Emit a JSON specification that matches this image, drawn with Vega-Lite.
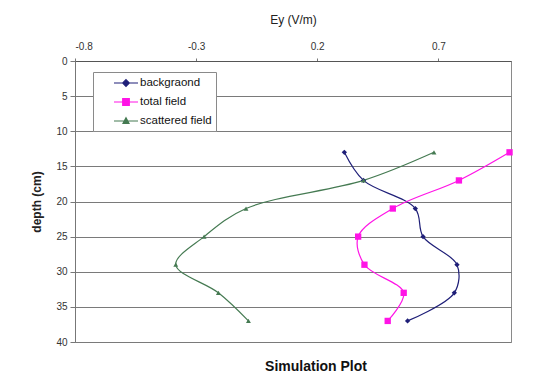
{
  "$schema": "https://vega.github.io/schema/vega-lite/v6.json",
  "width": 436,
  "height": 281,
  "autosize": {"type": "none"},
  "padding": {"left": 75, "top": 61, "right": 36, "bottom": 39},
  "background": "white",
  "config": {
    "font": "Liberation Sans",
    "view": {"stroke": "#8a8a8a", "strokeWidth": 1}
  },
  "title": {
    "text": "Simulation Plot",
    "orient": "bottom",
    "anchor": "middle",
    "fontSize": 14,
    "fontWeight": "bold",
    "color": "#111",
    "offset": 13,
    "dx": 23
  },
  "data": {
    "values": [
      {"series": "backgraond", "depth": 13, "Ey": 0.312},
      {"series": "backgraond", "depth": 17, "Ey": 0.391},
      {"series": "backgraond", "depth": 21, "Ey": 0.605},
      {"series": "backgraond", "depth": 25, "Ey": 0.637},
      {"series": "backgraond", "depth": 29, "Ey": 0.777},
      {"series": "backgraond", "depth": 33, "Ey": 0.766},
      {"series": "backgraond", "depth": 37, "Ey": 0.573},
      {"series": "total field", "depth": 13, "Ey": 0.994},
      {"series": "total field", "depth": 17, "Ey": 0.785},
      {"series": "total field", "depth": 21, "Ey": 0.512},
      {"series": "total field", "depth": 25, "Ey": 0.369},
      {"series": "total field", "depth": 29, "Ey": 0.395},
      {"series": "total field", "depth": 33, "Ey": 0.557},
      {"series": "total field", "depth": 37, "Ey": 0.491},
      {"series": "scattered field", "depth": 13, "Ey": 0.682},
      {"series": "scattered field", "depth": 17, "Ey": 0.391},
      {"series": "scattered field", "depth": 21, "Ey": -0.094},
      {"series": "scattered field", "depth": 25, "Ey": -0.267},
      {"series": "scattered field", "depth": 29, "Ey": -0.384},
      {"series": "scattered field", "depth": 33, "Ey": -0.208},
      {"series": "scattered field", "depth": 37, "Ey": -0.084}
    ]
  },
  "encoding": {
    "x": {
      "field": "Ey",
      "type": "quantitative",
      "scale": {"domain": [-0.8, 1.0], "nice": false, "zero": false},
      "axis": {
        "orient": "top",
        "title": "Ey (V/m)",
        "titleFontSize": 12,
        "titleFontWeight": "normal",
        "titleColor": "#222",
        "titlePadding": 15,
        "values": [-0.8, -0.3, 0.2, 0.7],
        "labelExpr": "'' + datum.value",
        "labelFontSize": 10,
        "labelColor": "#333",
        "labelPadding": 7,
        "grid": false,
        "domain": true,
        "domainColor": "#555",
        "tickColor": "#777",
        "tickSize": 3
      }
    },
    "y": {
      "field": "depth",
      "type": "quantitative",
      "scale": {"domain": [0, 40], "reverse": true, "nice": false},
      "axis": {
        "title": "depth (cm)",
        "titleFontSize": 12,
        "titleFontWeight": "bold",
        "titleColor": "#222",
        "titlePadding": 12,
        "values": [0, 5, 10, 15, 20, 25, 30, 35, 40],
        "labelFontSize": 10,
        "labelColor": "#333",
        "labelPadding": 3,
        "tickSize": 5,
        "tickColor": "#777",
        "domainColor": "#777",
        "grid": true,
        "gridColor": "#7a7a7a",
        "gridWidth": 1,
        "gridOpacity": 1
      }
    },
    "color": {
      "field": "series",
      "type": "nominal",
      "scale": {
        "domain": ["backgraond", "total field", "scattered field"],
        "range": ["#1f1f78", "#ff14e6", "#457a52"]
      },
      "legend": {
        "title": null,
        "orient": "none",
        "legendX": 18,
        "legendY": 11,
        "fillColor": "white",
        "strokeColor": "#8a8a8a",
        "padding": 4,
        "symbolSize": 144,
        "symbolOffset": 22,
        "labelOffset": 7,
        "labelFontSize": 11.5,
        "labelColor": "#111",
        "rowPadding": 6,
        "encode": {
          "symbols": {
            "update": {
              "shape": {"signal": "datum.value === 'backgraond' ? 'M-2,0H2M0,-0.55L0.55,0L0,0.55L-0.55,0Z' : datum.value === 'total field' ? 'M-2,0H2M-0.55,-0.55H0.55V0.55H-0.55Z' : 'M-2,0H2M0,-0.55L0.5,0.4H-0.5Z'"},
              "stroke": {"signal": "scale('color', datum.value)"},
              "fill": {"signal": "scale('color', datum.value)"},
              "strokeWidth": {"value": 1.2},
              "opacity": {"value": 1}
            }
          }
        }
      }
    }
  },
  "layer": [
    {
      "mark": {"type": "line", "interpolate": "catmull-rom", "strokeWidth": 1.2},
      "encoding": {
        "order": {"field": "depth", "type": "quantitative"}
      }
    },
    {
      "transform": [{"filter": "datum.series === 'backgraond'"}],
      "mark": {"type": "point", "filled": true, "opacity": 1, "shape": "diamond", "size": 28}
    },
    {
      "transform": [{"filter": "datum.series === 'total field'"}],
      "mark": {"type": "point", "filled": true, "opacity": 1, "shape": "square", "size": 40}
    },
    {
      "transform": [{"filter": "datum.series === 'scattered field'"}],
      "mark": {"type": "point", "filled": true, "opacity": 1, "shape": "triangle-up", "size": 24}
    }
  ]
}
